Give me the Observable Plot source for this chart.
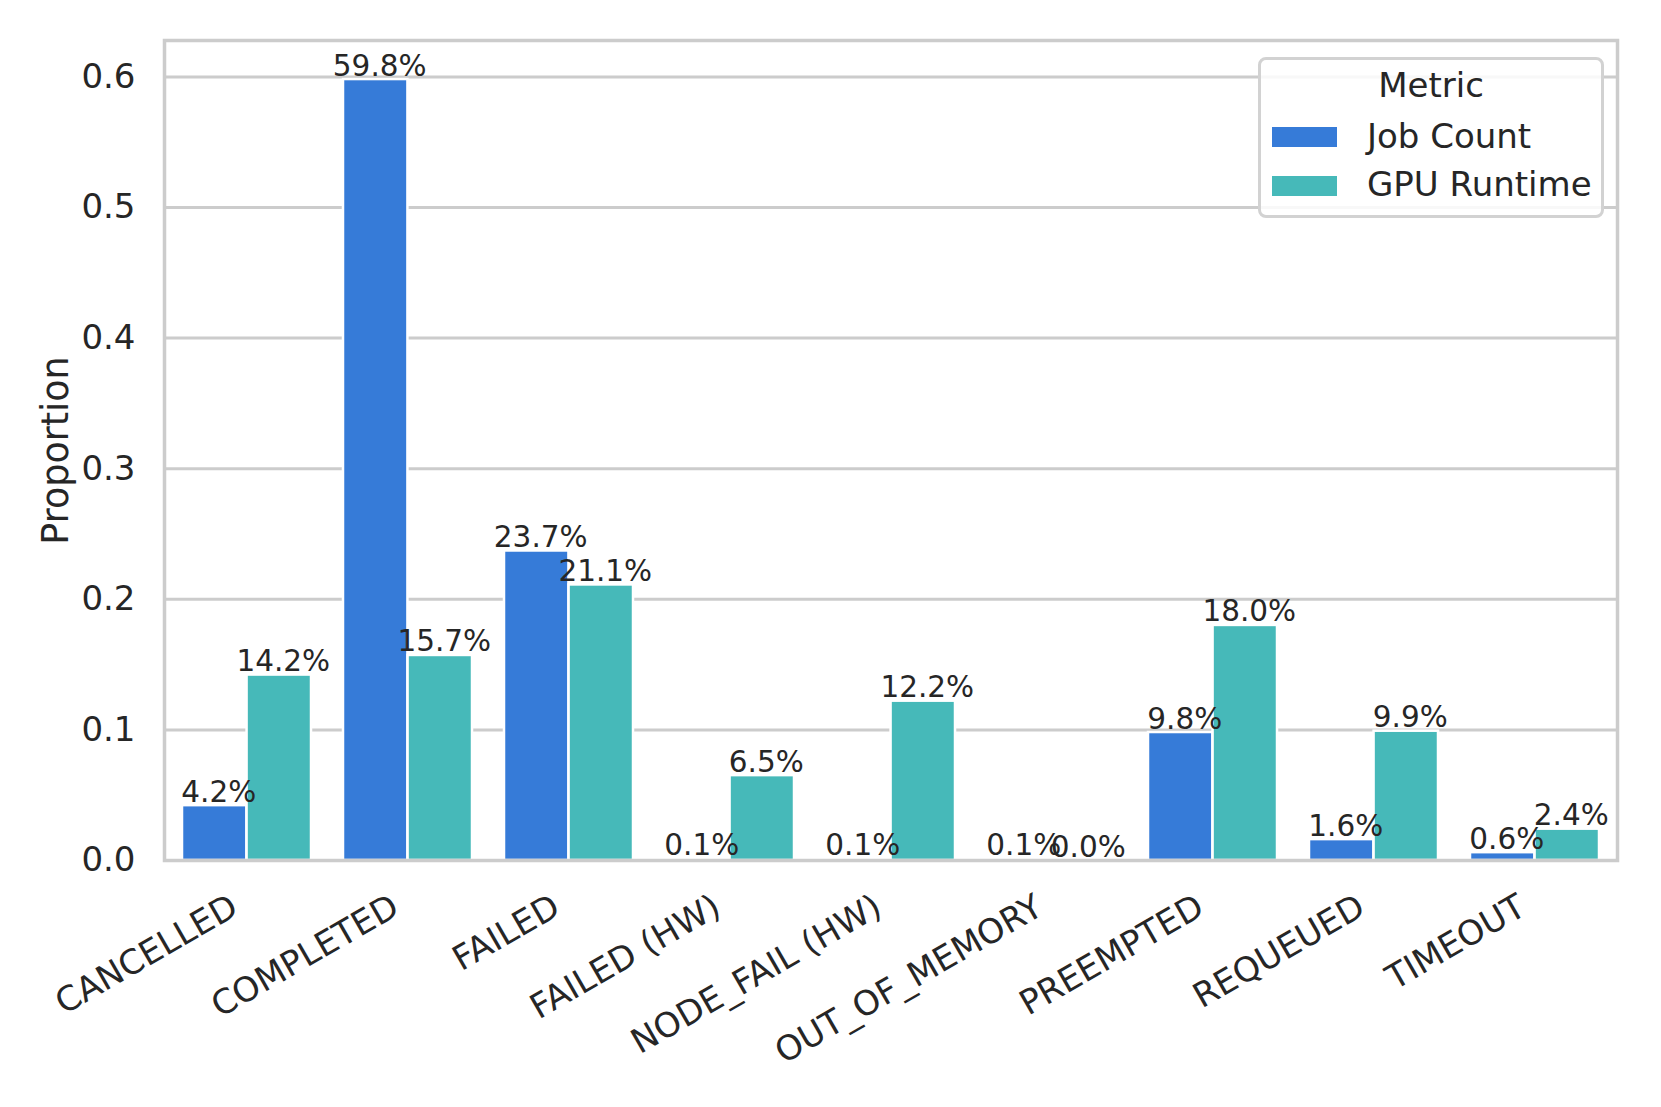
<!DOCTYPE html>
<html><head><meta charset="utf-8">
<script src="https://cdn.jsdelivr.net/npm/d3@7"></script>
<script src="https://cdn.jsdelivr.net/npm/@observablehq/plot@0.6"></script>
<style>
html,body{margin:0;padding:0;background:#fff;}
#wrap{position:relative;width:1661px;height:1107px;font-family:"DejaVu Sans",sans-serif;color:#262626;}
#legend{position:absolute;left:1258px;top:57px;width:346px;height:161px;box-sizing:border-box;border:3px solid #d2d2d2;border-radius:8px;background:rgba(255,255,255,0.85);}
#legend .t{position:absolute;font-size:34px;line-height:34px;white-space:nowrap;}
#legend .sw{position:absolute;width:65px;height:20px;}
</style></head><body><div id="wrap"></div><script>
const categories = ["CANCELLED","COMPLETED","FAILED","FAILED (HW)","NODE_FAIL (HW)","OUT_OF_MEMORY","PREEMPTED","REQUEUED","TIMEOUT"];
const metrics = ["Job Count","GPU Runtime"];
const jobCount   = [0.042,0.598,0.237,0.001,0.001,0.001,0.098,0.016,0.006];
const gpuRuntime = [0.142,0.157,0.211,0.065,0.122,0.000,0.180,0.099,0.024];
const colors = ["#367bd8","#46b9b9"];
const yTicks = [0,0.1,0.2,0.3,0.4,0.5,0.6];
const yLabel = "Proportion";
const legendTitle = "Metric";

const W = 1661, H = 1107, mL = 164, mR = 44, mT = 40, mB = 247;
const step = (W - mL - mR) / categories.length;
const half = step * 0.4;

const series = [jobCount, gpuRuntime];
const rows = [];
metrics.forEach((m, j) => categories.forEach((c, i) => rows.push({category: c, metric: m, value: series[j][i]})));
const ymax = d3.max(rows, d => d.value) * 1.05;

const marks = [
  Plot.gridY(yTicks, {stroke: "#cccccc", strokeOpacity: 1, strokeWidth: 3})
];
metrics.forEach((m, j) => {
  const data = rows.filter(d => d.metric === m);
  marks.push(Plot.barY(data, {
    x: "category", y: "value", fill: colors[j], stroke: "white", strokeWidth: 2.5,
    insetLeft: j === 0 ? 0 : half, insetRight: j === 0 ? half : 0
  }));
});
marks.push(Plot.frame({stroke: "#cccccc", strokeWidth: 3.5}));
metrics.forEach((m, j) => {
  const data = rows.filter(d => d.metric === m);
  marks.push(Plot.text(data, {
    x: "category", y: "value", text: d => (d.value * 100).toFixed(1) + "%",
    dx: (j === 0 ? -half / 2 : half / 2) + 4, dy: -4, lineAnchor: "bottom",
    fontSize: 29.5, fill: "#262626"
  }));
});
marks.push(Plot.axisY(yTicks, {
  tickSize: 0, tickPadding: 29, tickFormat: d => d.toFixed(1), fontSize: 34, label: null
}));
marks.push(Plot.text([yLabel], {
  text: d => d, frameAnchor: "left", rotate: -90, dx: -108, fontSize: 36.5,
  textAnchor: "middle", fill: "#262626"
}));
marks.push(Plot.axisX({
  tickSize: 0, tickRotate: -30, tickPadding: 32, fontSize: 34, label: null,
  textAnchor: "end", lineAnchor: "top", dx: -19
}));

const chart = Plot.plot({
  width: W, height: H,
  marginLeft: mL, marginRight: mR, marginTop: mT, marginBottom: mB,
  style: {fontFamily: "DejaVu Sans", color: "#262626", background: "white"},
  x: {type: "band", domain: categories, paddingInner: 0.2, paddingOuter: 0.1, axis: null},
  y: {domain: [0, ymax], axis: null},
  marks
});
const wrap = document.getElementById("wrap");
wrap.appendChild(chart);

const lg = document.createElement("div");
lg.id = "legend";
let html = `<div class="t" style="left:0;right:0;text-align:center;top:8px;">${legendTitle}</div>`;
metrics.forEach((m, j) => {
  html += `<div class="sw" style="left:11px;top:${67 + j * 49}px;background:${colors[j]}"></div>`;
  html += `<div class="t" style="left:106px;top:${59 + j * 48}px;">${m}</div>`;
});
lg.innerHTML = html;
wrap.appendChild(lg);
</script></body></html>
